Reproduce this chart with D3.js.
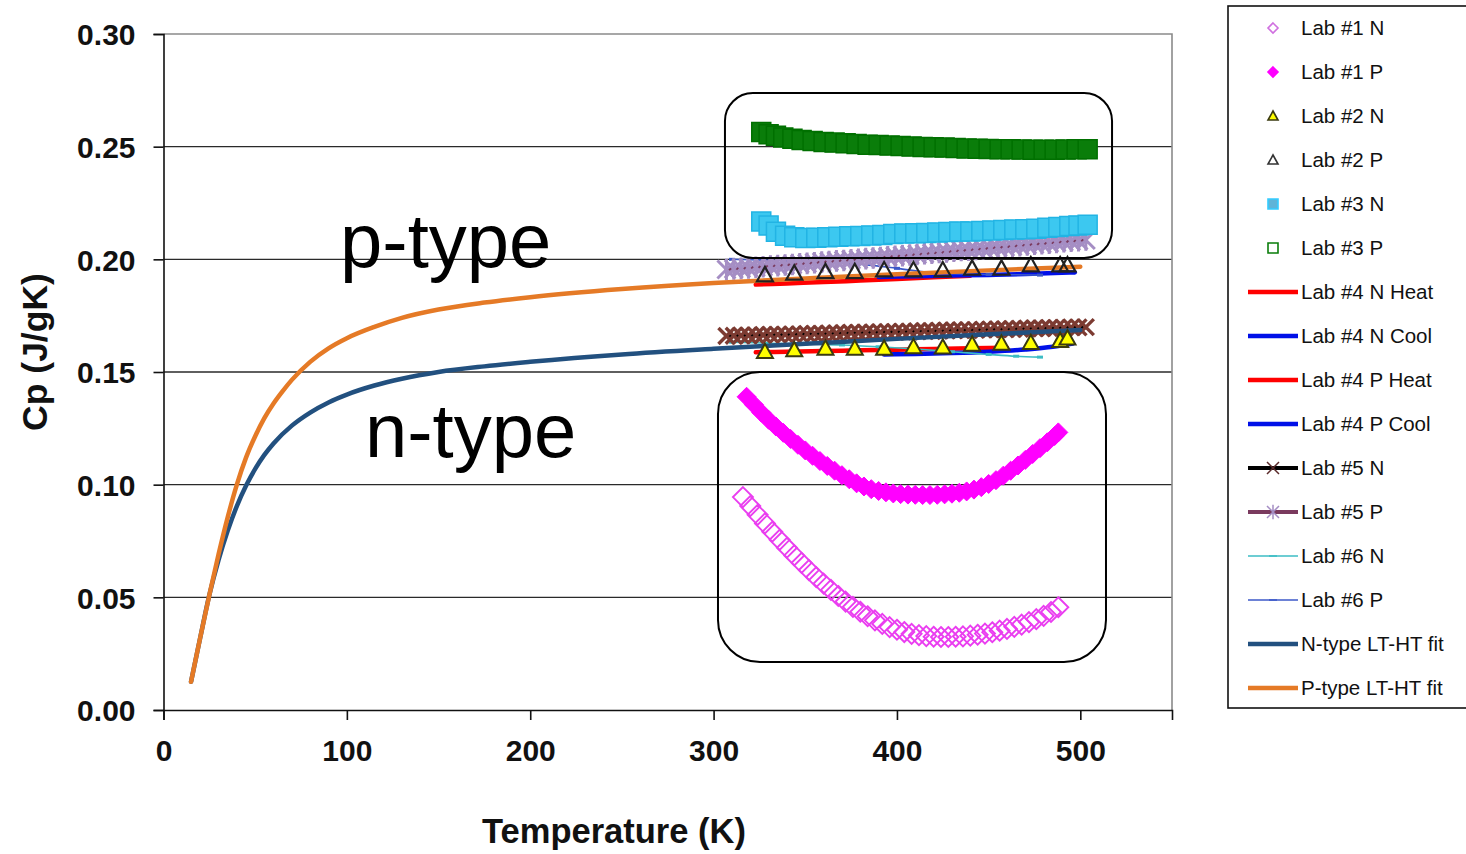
<!DOCTYPE html>
<html>
<head>
<meta charset="utf-8">
<script src="https://cdn.jsdelivr.net/npm/d3@7"></script>
<style>
  html, body { margin: 0; padding: 0; background: #fff; }
  svg { display: block; }
  text { font-family: "Liberation Sans", Arial, Helvetica, sans-serif; }
</style>
</head>
<body>
<svg id="chart" width="1466" height="854"></svg>
<script>
// ---------------- data: [temperature K, Cp J/gK] ----------------
const lab1N = [[316,0.0945],[320,0.0905],[324,0.0866],[328,0.0828],[332,0.0791],[336,0.0755],[340,0.0720],[344,0.0686],[348,0.0653],[352,0.0621],[356,0.0590],[360,0.0561],[364,0.0533],[368,0.0506],[372,0.0481],[376,0.0458],[380,0.0436],[384,0.0416],[388,0.0398],[392,0.0382],[396,0.0368],[400,0.0356],[404,0.0346],[408,0.0338],[412,0.0332],[416,0.0328],[420,0.0325],[424,0.0324],[428,0.0324],[432,0.0325],[436,0.0327],[440,0.0330],[444,0.0334],[448,0.0339],[452,0.0345],[456,0.0352],[460,0.0360],[464,0.0369],[468,0.0379],[472,0.0390],[476,0.0403],[480,0.0418],[484,0.0435],[488,0.0456]];

const lab1P = [[318,0.1390],[322,0.1355],[326,0.1320],[330,0.1288],[334,0.1258],[338,0.1230],[342,0.1203],[346,0.1177],[350,0.1152],[354,0.1128],[358,0.1105],[362,0.1083],[366,0.1062],[370,0.1042],[374,0.1024],[378,0.1006],[382,0.0992],[386,0.0980],[390,0.0972],[394,0.0966],[398,0.0961],[402,0.0958],[406,0.0956],[410,0.0955],[414,0.0954],[418,0.0954],[422,0.0955],[426,0.0957],[430,0.0960],[434,0.0964],[438,0.0970],[442,0.0978],[446,0.0989],[450,0.1003],[454,0.1020],[458,0.1040],[462,0.1062],[466,0.1085],[470,0.1110],[474,0.1136],[478,0.1162],[482,0.1188],[486,0.1216],[488,0.1232]];

const lab2N = [[328,0.1590],[344,0.1598],[361,0.1605],[377,0.1605],[393,0.1605],[409,0.1612],[425,0.1610],[441,0.1623],[457,0.1627],[473,0.1630],[489,0.1639],[493,0.1650]];

const lab2P = [[328,0.1931],[344,0.1938],[361,0.1945],[377,0.1945],[393,0.1953],[409,0.1953],[425,0.1953],[441,0.1960],[457,0.1960],[473,0.1975],[489,0.1975],[493,0.1975]];

const lab3N = [[326,0.2168],[330,0.2150],[334,0.2122],[339,0.2105],[344,0.2098],[350,0.2095],[356,0.2096],[362,0.2098],[368,0.2100],[374,0.2102],[380,0.2104],[386,0.2106],[392,0.2108],[398,0.2112],[404,0.2115],[410,0.2116],[416,0.2117],[422,0.2119],[428,0.2121],[434,0.2123],[440,0.2124],[446,0.2126],[452,0.2128],[458,0.2130],[464,0.2132],[470,0.2134],[476,0.2136],[482,0.2140],[488,0.2143],[494,0.2148],[499,0.2150],[504,0.2153]];

const lab3P = [[326,0.2565],[330,0.2555],[334,0.2548],[338,0.2541],[343,0.2535],[348,0.2530],[354,0.2525],[360,0.2521],[366,0.2518],[372,0.2515],[378,0.2512],[384,0.2509],[390,0.2507],[396,0.2505],[402,0.2503],[408,0.2501],[414,0.2499],[420,0.2497],[426,0.2496],[432,0.2494],[438,0.2492],[444,0.2491],[450,0.2490],[456,0.2489],[462,0.2488],[468,0.2487],[474,0.2486],[480,0.2486],[486,0.2486],[492,0.2487],[498,0.2488],[504,0.2489]];

const lab4NHeat = [[323,0.1588],[340,0.1590],[360,0.1593],[380,0.1596],[400,0.1599],[420,0.1602],[440,0.1605],[460,0.1608]];
const lab4NCool = [[393,0.1578],[410,0.1580],[430,0.1584],[450,0.1590],[470,0.1600],[485,0.1612],[496,0.1626]];
const lab4PHeat = [[323,0.1888],[340,0.1893],[360,0.1899],[380,0.1906],[400,0.1913],[420,0.1920],[440,0.1927]];
const lab4PCool = [[390,0.1922],[410,0.1925],[430,0.1928],[450,0.1931],[470,0.1935],[490,0.1940],[497,0.1942]];

const lab5N = [[307,0.1660],[311,0.1661],[315,0.1662],[319,0.1662],[323,0.1663],[327,0.1664],[331,0.1665],[335,0.1666],[339,0.1666],[343,0.1667],[347,0.1668],[351,0.1669],[355,0.1670],[359,0.1670],[363,0.1671],[367,0.1672],[371,0.1673],[375,0.1674],[379,0.1674],[383,0.1675],[387,0.1676],[391,0.1677],[395,0.1678],[399,0.1678],[403,0.1679],[407,0.1680],[411,0.1681],[415,0.1682],[419,0.1682],[423,0.1683],[427,0.1684],[431,0.1685],[435,0.1686],[439,0.1686],[443,0.1687],[447,0.1688],[451,0.1689],[455,0.1690],[459,0.1690],[463,0.1691],[467,0.1692],[471,0.1693],[475,0.1694],[479,0.1694],[483,0.1695],[487,0.1696],[491,0.1697],[495,0.1698],[499,0.1698],[503,0.1699]];

const lab5P = [[307,0.1955],[311,0.1957],[315,0.1960],[319,0.1962],[323,0.1965],[327,0.1967],[331,0.1970],[335,0.1972],[339,0.1975],[343,0.1977],[347,0.1980],[351,0.1982],[355,0.1985],[359,0.1988],[363,0.1990],[367,0.1993],[371,0.1995],[375,0.1998],[379,0.2000],[383,0.2003],[387,0.2006],[391,0.2008],[395,0.2011],[399,0.2014],[403,0.2016],[407,0.2019],[411,0.2022],[415,0.2025],[419,0.2027],[423,0.2030],[427,0.2033],[431,0.2036],[435,0.2039],[439,0.2041],[443,0.2044],[447,0.2047],[451,0.2050],[455,0.2053],[459,0.2055],[463,0.2058],[467,0.2061],[471,0.2064],[475,0.2067],[479,0.2069],[483,0.2072],[487,0.2075],[491,0.2078],[495,0.2080],[499,0.2083],[503,0.2086]];

const lab6N = [[310,0.1632],[330,0.1628],[350,0.1624],[370,0.1620],[390,0.1612],[410,0.1602],[430,0.1590],[450,0.1578],[465,0.1570],[478,0.1566]];
const lab6P = [[310,0.2000],[340,0.1994],[375,0.1982],[400,0.1960],[420,0.1940],[450,0.1933],[478,0.1930]];

const nFit = [[15,0.0125],[20,0.0320],[25,0.0510],[30,0.0665],[35,0.0795],[40,0.0905],[45,0.0995],[50,0.1070],[55,0.1132],[60,0.1183],[70,0.1262],[80,0.1320],[90,0.1365],[100,0.1400],[115,0.1440],[130,0.1470],[150,0.1500],[175,0.1525],[200,0.1545],[250,0.1578],[300,0.1603],[350,0.1625],[400,0.1647],[450,0.1667],[500,0.1686]];
const pFit = [[15,0.0125],[20,0.0320],[25,0.0510],[30,0.0690],[35,0.0855],[40,0.1000],[45,0.1120],[50,0.1215],[55,0.1295],[60,0.1360],[65,0.1415],[70,0.1465],[80,0.1545],[90,0.1605],[100,0.1650],[115,0.1700],[130,0.1740],[150,0.1777],[175,0.1808],[200,0.1832],[250,0.1868],[300,0.1895],[350,0.1915],[400,0.1934],[450,0.1951],[500,0.1967]];

const xTicks = [0, 100, 200, 300, 400, 500];
const yTicks = [0, 0.05, 0.10, 0.15, 0.20, 0.25, 0.30];
const legendNames = ["Lab #1 N","Lab #1 P","Lab #2 N","Lab #2 P","Lab #3 N","Lab #3 P","Lab #4 N Heat","Lab #4 N Cool","Lab #4 P Heat","Lab #4 P Cool","Lab #5 N","Lab #5 P","Lab #6 N","Lab #6 P","N-type LT-HT fit","P-type LT-HT fit"];

// annotation regions in data units [T0, T1, cpTop, cpBottom]
const pBox = [306.2, 517.3, 0.2738, 0.2006];
const nBox = [302.4, 514.0, 0.1500, 0.0213];
const typeLabels = [["p-type", 96.3, 0.1966], ["n-type", 109.9, 0.1123]];

// ---------------- layout ----------------
const svg = d3.select("#chart");
const plot = { left: 163.5, right: 1172, top: 34, bottom: 710 };
const x = d3.scaleLinear().domain([0, 550]).range([plot.left, plot.right]);
const y = d3.scaleLinear().domain([0, 0.30]).range([plot.bottom, plot.top]);

function markerPath(kind, r) {
  switch (kind) {
    case "diamond": return `M0,${-r}L${r},0L0,${r}L${-r},0Z`;
    case "square": return `M${-r},${-r}H${r}V${r}H${-r}Z`;
    case "triangle": return `M0,${-r}L${r},${r * 0.8}L${-r},${r * 0.8}Z`;
    case "x": return `M${-r},${-r}L${r},${r}M${-r},${r}L${r},${-r}`;
    case "star": return `M${-r},${-r}L${r},${r}M${-r},${r}L${r},${-r}M0,${-r * 1.2}V${r * 1.2}`;
    case "dash": return `M${-r},0H${r}`;
  }
  return "";
}

const styles = {
  "Lab #1 N": { marker: "diamond", r: 10, fill: "none", stroke: "#ea3ef0", sw: 1.9, lr: 5, lfill: "none", lstroke: "#d070e0" },
  "Lab #1 P": { marker: "diamond", r: 9.5, fill: "#ff00ff", stroke: "#ff00ff", sw: 1, lr: 5, lfill: "#ff00ff", lstroke: "#ff00ff" },
  "Lab #2 N": { marker: "triangle", r: 8, fill: "#ffff00", stroke: "#3a3a10", sw: 2, lr: 5, lfill: "#ffff00", lstroke: "#3a3a10" },
  "Lab #2 P": { marker: "triangle", r: 8, fill: "none", stroke: "#222", sw: 2.2, lr: 5, lfill: "none", lstroke: "#333" },
  "Lab #3 N": { marker: "square", r: 9.5, fill: "#3cc8f0", stroke: "#22b4e4", sw: 1.5, lr: 5, lfill: "#5fb4d8", lstroke: "#33ccff" },
  "Lab #3 P": { marker: "square", r: 9.5, fill: "#0a7d0a", stroke: "#007000", sw: 1.5, lr: 5, lfill: "#fff", lstroke: "#0a7d0a" },
  "Lab #4 N Heat": { line: "#ff0000", lw: 4.5 },
  "Lab #4 N Cool": { line: "#0010e8", lw: 4.5 },
  "Lab #4 P Heat": { line: "#ff0000", lw: 4.5 },
  "Lab #4 P Cool": { line: "#0010e8", lw: 4.5 },
  "Lab #5 N": { line: "#000", lw: 4, marker: "x", r: 8, fill: "none", stroke: "#7c3b32", sw: 3.4, lr: 6, lstroke: "#5a2a2a" },
  "Lab #5 P": { line: "#7a3a5e", lw: 4, marker: "star", r: 9, fill: "none", stroke: "#a58ec4", sw: 3, lr: 6, lstroke: "#a58ec4" },
  "Lab #6 N": { line: "#3cbcc4", lw: 1.6, marker: "dash", r: 3, fill: "none", stroke: "#3cbcc4", sw: 3, lr: 4, lstroke: "#3cbcc4" },
  "Lab #6 P": { line: "#3c58c8", lw: 1.6, marker: "dash", r: 3, fill: "none", stroke: "#3c58c8", sw: 3, lr: 4, lstroke: "#3c58c8" },
  "N-type LT-HT fit": { line: "#22507f", lw: 4.5 },
  "P-type LT-HT fit": { line: "#e57a26", lw: 4.5 }
};

const seriesData = {
  "Lab #1 N": lab1N, "Lab #1 P": lab1P, "Lab #2 N": lab2N, "Lab #2 P": lab2P,
  "Lab #3 N": lab3N, "Lab #3 P": lab3P,
  "Lab #4 N Heat": lab4NHeat, "Lab #4 N Cool": lab4NCool, "Lab #4 P Heat": lab4PHeat, "Lab #4 P Cool": lab4PCool,
  "Lab #5 N": lab5N, "Lab #5 P": lab5P, "Lab #6 N": lab6N, "Lab #6 P": lab6P,
  "N-type LT-HT fit": nFit, "P-type LT-HT fit": pFit
};

// ---------------- frame, grid and axes ----------------
svg.append("rect").attr("width", 1466).attr("height", 854).attr("fill", "#fff");

const grid = svg.append("g");
grid.selectAll("line.h").data(yTicks.filter(d => d > 0 && d < 0.30)).join("line")
  .attr("x1", plot.left).attr("x2", plot.right)
  .attr("y1", d => y(d)).attr("y2", d => y(d))
  .attr("stroke", "#2a2a2a").attr("stroke-width", 1.4);
// top and right border of the plot area
grid.append("path")
  .attr("d", `M${plot.left},${y(0.30)}H${x(550)}V${plot.bottom}`)
  .attr("fill", "none").attr("stroke", "#8a8a8a").attr("stroke-width", 1.6);

const yAxis = svg.append("g").attr("transform", `translate(${plot.left},0)`)
  .call(d3.axisLeft(y).tickValues(yTicks).tickSize(10).tickPadding(18).tickFormat(d3.format(".2f")));
const xAxis = svg.append("g").attr("transform", `translate(0,${plot.bottom})`)
  .call(d3.axisBottom(x).tickValues(xTicks).tickSize(10).tickFormat(d3.format("d")));
[yAxis, xAxis].forEach(g => {
  g.select(".domain").attr("stroke", "#111").attr("stroke-width", 1.6);
  g.selectAll(".tick line").attr("stroke", "#111").attr("stroke-width", 1.6);
  g.selectAll(".tick text").attr("fill", "#111")
    .style("font-family", '"Liberation Sans", Arial, sans-serif')
    .style("font-weight", "bold").style("font-size", "30px");
});
yAxis.selectAll(".tick text").attr("dy", "0.36em");
xAxis.selectAll(".tick text").attr("y", 51).attr("dy", 0);

svg.append("text").text("Temperature (K)")
  .attr("x", 614).attr("y", 843).attr("text-anchor", "middle")
  .style("font-weight", "bold").style("font-size", "34.5px").attr("fill", "#111");
svg.append("text").text("Cp (J/gK)")
  .attr("transform", "translate(47,352) rotate(-90)").attr("text-anchor", "middle")
  .style("font-weight", "bold").style("font-size", "35.5px").attr("fill", "#111");

// ---------------- series ----------------
const lineGen = d3.line().x(d => x(d[0])).y(d => y(d[1])).curve(d3.curveMonotoneX);
const layer = svg.append("g");

function drawLine(name) {
  const s = styles[name];
  layer.append("path").datum(seriesData[name])
    .attr("d", lineGen).attr("fill", "none")
    .attr("stroke", s.line).attr("stroke-width", s.lw)
    .attr("stroke-linejoin", "round").attr("stroke-linecap", "round");
}
function drawMarkers(name) {
  const s = styles[name];
  layer.append("g").selectAll("path").data(seriesData[name]).join("path")
    .attr("transform", d => `translate(${x(d[0])},${y(d[1])})`)
    .attr("d", markerPath(s.marker, s.r))
    .attr("fill", s.fill).attr("stroke", s.stroke).attr("stroke-width", s.sw)
    .attr("stroke-linejoin", "miter");
}

["Lab #4 N Heat", "Lab #4 N Cool", "Lab #4 P Heat", "Lab #4 P Cool"].forEach(drawLine);
["Lab #6 N", "Lab #6 P"].forEach(n => { drawLine(n); drawMarkers(n); });
drawLine("Lab #5 N"); drawMarkers("Lab #5 N");
drawLine("Lab #5 P"); drawMarkers("Lab #5 P");
["N-type LT-HT fit", "P-type LT-HT fit"].forEach(drawLine);
["Lab #3 N", "Lab #3 P", "Lab #1 N", "Lab #1 P", "Lab #2 N", "Lab #2 P"].forEach(drawMarkers);

// ---------------- annotations ----------------
[[pBox, 28], [nBox, 42]].forEach(([b, r]) => {
  svg.append("rect")
    .attr("x", x(b[0])).attr("y", y(b[2]))
    .attr("width", x(b[1]) - x(b[0])).attr("height", y(b[3]) - y(b[2]))
    .attr("rx", r).attr("ry", r)
    .attr("fill", "none").attr("stroke", "#000").attr("stroke-width", 2);
});
typeLabels.forEach(([t, tx, ty]) => {
  svg.append("text").text(t).attr("x", x(tx)).attr("y", y(ty))
    .style("font-size", "76px").attr("fill", "#000");
});

// ---------------- legend ----------------
const legend = svg.append("g");
legend.append("rect").attr("x", 1228).attr("y", 6).attr("width", 260).attr("height", 702)
  .attr("fill", "#fff").attr("stroke", "#111").attr("stroke-width", 1.6);
legendNames.forEach((name, i) => {
  const s = styles[name];
  const cy = 28 + i * 44;
  const g = legend.append("g").attr("transform", `translate(0,${cy})`);
  if (s.line) {
    g.append("line").attr("x1", 1248).attr("x2", 1298).attr("y1", 0).attr("y2", 0)
      .attr("stroke", s.line).attr("stroke-width", s.lw);
  }
  if (s.marker) {
    g.append("path").attr("transform", "translate(1273,0)")
      .attr("d", markerPath(s.marker, s.lr))
      .attr("fill", s.lfill || "none").attr("stroke", s.lstroke)
      .attr("stroke-width", s.line ? 1.5 : 1.6);
  }
  g.append("text").text(name).attr("x", 1301).attr("y", 7)
    .style("font-size", "20.5px").attr("fill", "#111");
});
</script>
</body>
</html>
